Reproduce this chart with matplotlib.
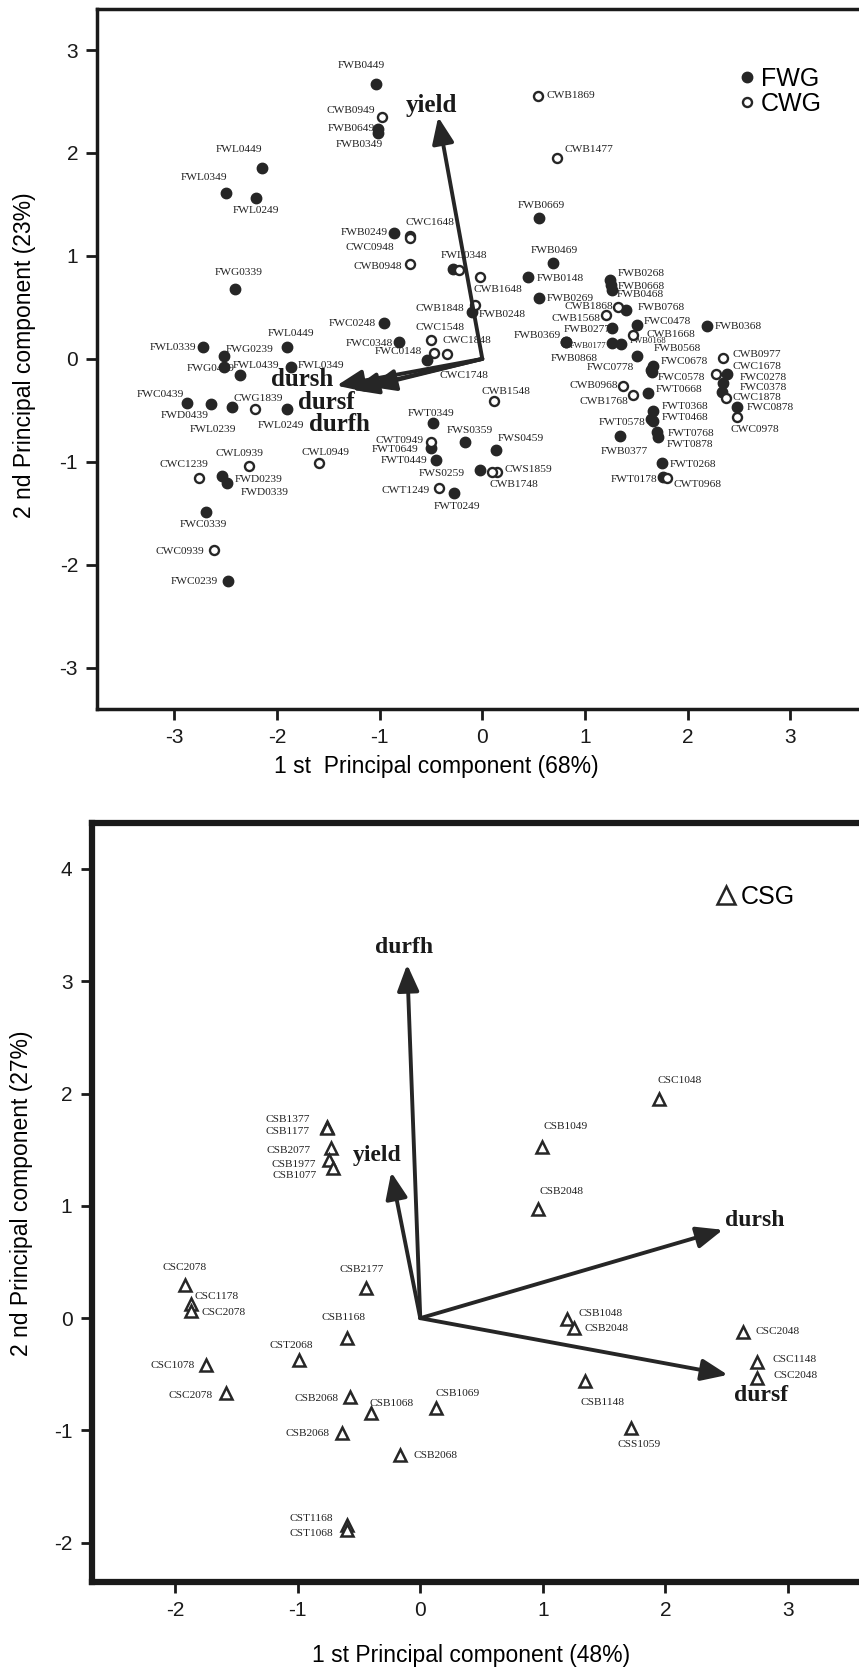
import matplotlib
matplotlib.use('Agg')
import matplotlib.pyplot as plt

plt.rcParams['font.family'] = 'Liberation Sans'
plt.rcParams['axes.unicode_minus'] = False

INK = '#262626'

# ---------- upper panel: FWG (filled) / CWG (open) ----------
fwg_names = ['FWB0449', 'FWB0649', 'FWB0349', 'FWL0449', 'FWL0349', 'FWL0249', 'FWG0339',
             'FWB0249', 'FWL0348', 'FWB0669', 'FWB0469', 'FWB0148', 'FWB0248', 'FWB0269',
             'FWC0248', 'FWC0348', 'FWC0148', 'FWL0339', 'FWG0239', 'FWL0439', 'FWG0439',
             'FWL0449', 'FWL0349', 'FWC0439', 'FWD0439', 'FWL0239', 'FWL0249', 'FWD0239',
             'FWD0339', 'FWC0339', 'FWC0239', 'FWT0349', 'FWT0649', 'FWT0449', 'FWS0359',
             'FWS0459', 'FWS0259', 'FWT0249', 'FWB0268', 'FWB0668', 'FWB0468', 'FWB0768',
             'FWC0478', 'FWB0277', 'FWB0369', 'FWB0868', 'FWB0177', 'FWB0168', 'FWB0568',
             'FWC0678', 'FWC0778', 'FWC0578', 'FWT0668', 'FWT0368', 'FWT0468', 'FWT0578',
             'FWB0377', 'FWT0768', 'FWT0878', 'FWT0268', 'FWT0178', 'FWB0368', 'FWC0278',
             'FWC0378', '', 'FWC0878']
fwg_x = [-1.035, -1.013, -1.013, -2.149, -2.496, -2.203, -2.411,
         -0.864, -0.288, 0.549, 0.693, 0.448, -0.096, 0.549,
         -0.955, -0.816, -0.544, -2.725, -2.517, -2.517, -2.357,
         -1.904, -1.867, -2.875, -2.64, -2.437, -1.904, -2.539,
         -2.491, -2.693, -2.48, -0.48, -0.501, -0.453, -0.165,
         0.133, -0.027, -0.272, 1.24, 1.25, 1.26, 1.40,
         1.504, 1.261, 0.811, 0.815, 1.264, 1.349, 1.504,
         1.66, 1.64, 1.65, 1.611, 1.666, 1.666, 1.64,
         1.342, 1.699, 1.709, 1.748, 1.764, 2.186, 2.387,
         2.348, 2.332, 2.484]
fwg_y = [2.675, 2.234, 2.194, 1.856, 1.607, 1.562, 0.681,
         1.224, 0.877, 1.366, 0.93, 0.792, 0.454, 0.587,
         0.347, 0.165, -0.013, 0.111, 0.031, -0.08, -0.156,
         0.111, -0.076, -0.432, -0.44, -0.463, -0.49, -1.139,
         -1.21, -1.486, -2.158, -0.623, -0.868, -0.984, -0.806,
         -0.881, -1.077, -1.3, 0.77, 0.72, 0.67, 0.479,
         0.327, 0.301, 0.165, 0.16, 0.156, 0.147, 0.03,
         -0.07, -0.11, -0.13, -0.329, -0.506, -0.603, -0.58,
         -0.749, -0.713, -0.755, -1.007, -1.143, 0.321, -0.151,
         -0.238, -0.326, -0.468]

cwg_names = ['CWB0949', 'CWC1648', 'CWC0948', 'CWB0948', '', 'CWB1648', 'CWB1869', 'CWB1477',
             'CWB1848', 'CWC1548', 'CWC1748', 'CWC1848', 'CWG1839', 'CWL0939', 'CWC1239',
             'CWC0939', 'CWL0949', 'CWT0949', 'CWB1548', 'CWS1859', 'CWB1748', 'CWT1249',
             'CWB1868', 'CWB1568', 'CWB1668', 'CWB0968', 'CWB1768', 'CWT0968', 'CWB0977',
             'CWC1678', 'CWC1878', 'CWC0978']
cwg_x = [-0.976, -0.704, -0.704, -0.704, -0.224, -0.027, 0.539, 0.731,
         -0.075, -0.501, -0.475, -0.341, -2.219, -2.277, -2.763,
         -2.619, -1.589, -0.501, 0.112, 0.139, 0.096, -0.421,
         1.319, 1.205, 1.472, 1.374, 1.472, 1.803, 2.348,
         2.277, 2.374, 2.484]
cwg_y = [2.35, 1.19, 1.17, 0.921, 0.868, 0.797, 2.555, 1.954,
         0.525, 0.187, 0.062, 0.045, -0.49, -1.037, -1.157,
         -1.856, -1.01, -0.806, -0.409, -1.095, -1.095, -1.255,
         0.505, 0.424, 0.236, -0.264, -0.351, -1.159, 0.011,
         -0.151, -0.377, -0.561]

top_vars = ['yield', 'dursh', 'dursf', 'durfh']
top_load_x = [-0.43, -1.42, -1.27, -1.10]
top_load_y = [2.35, -0.26, -0.30, -0.27]

# ---------- lower panel: CSG ----------
csg_names = ['CSC1048', 'CSB1049', 'CSB2048', 'CSB1377', 'CSB1177', 'CSB2077', 'CSB1977',
             'CSB1077', 'CSC2078', 'CSC1178', 'CSC2078', 'CSB2177', 'CSB1168', 'CST2068',
             'CSC1078', 'CSC2078', 'CSB2068', 'CSB1068', 'CSB1069', 'CSB2068', 'CSB2068',
             'CST1168', 'CST1068', 'CSB1048', 'CSB2048', 'CSB1148', 'CSS1059', 'CSC2048',
             'CSC1148', 'CSC2048']
csg_x = [1.945, 0.997, 0.962, -0.76, -0.76, -0.725, -0.747,
         -0.716, -1.923, -1.869, -1.874, -0.443, -0.595, -0.993,
         -1.749, -1.583, -0.572, -0.403, 0.13, -0.64, -0.165,
         -0.595, -0.595, 1.194, 1.252, 1.346, 1.722, 2.634,
         2.751, 2.751]
csg_y = [1.954, 1.526, 0.972, 1.70, 1.69, 1.515, 1.406,
         1.341, 0.299, 0.125, 0.06, 0.266, -0.174, -0.375,
         -0.418, -0.668, -0.706, -0.842, -0.798, -1.026, -1.216,
         -1.846, -1.889, -0.011, -0.092, -0.559, -0.977, -0.125,
         -0.391, -0.537]

bot_vars = ['durfh', 'yield', 'dursh', 'dursf']
bot_load_x = [-0.107, -0.237, 2.47, 2.51]
bot_load_y = [3.15, 1.30, 0.787, -0.505]

# ---------- label placement (layout only): offset in points + alignment ----------
fwg_lab = [(-10.3, 13.2, 'center'), (-2.4, 0.5, 'right'), (-13.7, -8.4, 'center'),
           (-16.3, 13.2, 'center'), (-16.3, 11.5, 'center'), (0, -9, 'center'),
           (2.9, 11.5, 'center'), (-4, 0, 'right'), (-9, 9.6, 'left'),
           (2.2, 9, 'center'), (0.7, 8.9, 'center'), (6, -0.5, 'left'),
           (4.8, -1.9, 'left'), (5.5, 0, 'left'), (-6, 0, 'right'),
           (-4, -1.2, 'right'), (-3.6, 6, 'right'), (-4.3, 0, 'right'),
           (1.2, 4.8, 'left'), (6, 1.2, 'left'), (-4.3, 4.3, 'right'),
           (3, 10, 'center'), (5, 1.2, 'left'), (-2.4, 6.7, 'right'),
           (-1.7, -8, 'right'), (2.9, -16.8, 'right'), (-4.3, -11.7, 'center'),
           (9.5, -2.4, 'left'), (10, -6.7, 'left'), (-2.2, -9, 'center'),
           (-6.8, 0, 'right'), (-1.7, 7.2, 'center'), (-9, -1.2, 'right'),
           (-6, 0, 'right'), (3.2, 8, 'center'), (1, 7.7, 'left'),
           (-10.8, -2.9, 'right'), (1.7, -9.6, 'center'), (5.5, 4.3, 'left'),
           (5, -1.0, 'left'), (4, -3.5, 'left'), (8.4, 1.2, 'left'),
           (5, 3, 'left'), (-1, -1, 'right'), (-3.6, 4.3, 'right'),
           (6, -11.5, 'center'), (-4, -2.4, 'right'), (6.5, 2, 'left'),
           (12.5, 5.3, 'left'), (5.5, 3, 'left'), (-12, 1.7, 'right'),
           (4, -4, 'left'), (5.8, 2.6, 'left'), (6, 3.2, 'left'),
           (6, 2.7, 'left'), (-3.5, -2.7, 'right'), (3, -11.2, 'center'),
           (7.6, -1.2, 'left'), (6.5, -6, 'left'), (6, -1.2, 'left'),
           (-4.3, -2, 'right'), (6, -0.7, 'left'), (9, -2, 'left'),
           (11.5, -3, 'left'), (0, 0, 'left'), (7, 0, 'left')]
cwg_lab = [(-4.8, 4.3, 'right'), (-3.6, 10.3, 'left'), (-29, -6.2, 'center'),
           (-6, -1.9, 'right'), (0, 0, 'left'), (-4.3, -9.1, 'left'),
           (6.2, 0, 'left'), (4.8, 6, 'left'), (-7.3, -2.7, 'right'),
           (6.4, 8.4, 'center'), (21.7, -16.8, 'center'), (-3.6, 9.6, 'left'),
           (2.9, 7.7, 'center'), (-6.8, 9, 'center'), (-10.4, 9.6, 'center'),
           (-6.5, -1.4, 'right'), (4.3, 7.2, 'center'), (-5.5, 1.2, 'right'),
           (8.4, 7.2, 'center'), (6, 1.2, 'left'), (15.3, -9.6, 'center'),
           (-6.5, -1.9, 'right'), (-3, 0, 'right'), (-4.3, -2, 'right'),
           (9.6, 0, 'left'), (-4, 0.7, 'right'), (-4, -4.3, 'right'),
           (4.3, -4.8, 'left'), (6.5, 2.6, 'left'), (12, 5.5, 'left'),
           (5, 0, 'left'), (12.5, -8.9, 'center')]
csg_lab = [(-0.5, 13.2, 'left'), (0.7, 14.4, 'left'), (1.2, 12.5, 'left'),
           (-12.5, 5.5, 'right'), (-12.5, -2.4, 'right'), (-15, -1.7, 'right'),
           (-9, -3, 'right'), (-11.5, -6, 'right'), (0.2, 12.5, 'center'),
           (2.2, 5.3, 'left'), (7.7, -1, 'left'), (-2.9, 13.7, 'center'),
           (-2.9, 14.4, 'center'), (-5, 10.8, 'center'), (-8.3, 0, 'right'),
           (-9.8, -1.8, 'right'), (-8.2, -0.5, 'right'), (-1.2, 6.7, 'left'),
           (-0.5, 10.3, 'left'), (-8.7, 0, 'right'), (9.5, -0.5, 'left'),
           (-10, 4.8, 'right'), (-10, -2.2, 'right'), (8.9, 4.3, 'left'),
           (8, 0, 'left'), (-3.6, -15.3, 'left'), (5.9, -11.8, 'center'),
           (9, 0.7, 'left'), (10.7, 1.8, 'left'), (11.8, 1.8, 'left')]
small = {'FWB0177', 'FWB0168'}


def put_labels(ax, names, xs, ys, labpos):
    for n, x, y, (dx, dy, ha) in zip(names, xs, ys, labpos):
        if not n:
            continue
        ax.annotate(n, (x, y), xytext=(dx, dy), textcoords='offset points', ha=ha, va='center',
                    fontsize=6.3 if n in small else 8.2, family='Liberation Serif',
                    color='#222222', zorder=2)


def draw_arrows(ax, lx, ly):
    for x, y in zip(lx, ly):
        ax.annotate('', xy=(x, y), xytext=(0, 0),
                    arrowprops=dict(arrowstyle='-|>,head_length=0.8,head_width=0.33',
                                    lw=2.8, color=INK, mutation_scale=20,
                                    shrinkA=0, shrinkB=0), zorder=4)


def style(ax, lw):
    for side in ['left', 'bottom', 'top', 'right']:
        ax.spines[side].set_linewidth(lw)
        ax.spines[side].set_color('#1a1a1a')
    ax.tick_params(direction='out', length=8, width=2, labelsize=15, pad=6,
                   color='#1a1a1a', labelcolor='#1a1a1a')


fig = plt.figure(figsize=(8.59, 16.72), dpi=100)

# upper panel
ax1 = fig.add_axes([0.1135, 0.576, 0.896, 0.4187])
ax1.set_xlim(-3.75, 3.75)
ax1.set_ylim(-3.4, 3.4)
ax1.plot(fwg_x, fwg_y, 'o', ms=7.5, mfc=INK, mec=INK, ls='none', label='FWG', zorder=3)
ax1.plot(cwg_x, cwg_y, 'o', ms=6.5, mfc='white', mec=INK, mew=1.7, ls='none', label='CWG', zorder=3)
put_labels(ax1, fwg_names, fwg_x, fwg_y, fwg_lab)
put_labels(ax1, cwg_names, cwg_x, cwg_y, cwg_lab)
draw_arrows(ax1, top_load_x, top_load_y)
top_txt = [(-0.5, 2.46), (-1.76, -0.2), (-1.52, -0.42), (-1.39, -0.64)]
for name, (tx, ty) in zip(top_vars, top_txt):
    ax1.text(tx, ty, name, ha='center', va='center', fontsize=18, fontweight='bold',
             family='Liberation Serif', color='#1a1a1a', zorder=5)
ax1.set_xticks(range(-3, 4))
ax1.set_yticks(range(-3, 4))
style(ax1, 2.5)
ax1.legend(loc='upper left', bbox_to_anchor=(0.82, 0.935), frameon=False, fontsize=18,
           handlelength=0.5, handletextpad=0.3, labelspacing=0.05, borderpad=0,
           markerscale=1.0)
ax1.text(0.44, -0.082, '1 st  Principal component (68%)', transform=ax1.transAxes,
         ha='center', va='center', fontsize=16.5)
ax1.text(-0.095, 0.506, '2 nd Principal component (23%)', transform=ax1.transAxes,
         ha='center', va='center', rotation=90, fontsize=16.5)

# lower panel
ax2 = fig.add_axes([0.107, 0.0538, 0.910, 0.454])
ax2.set_xlim(-2.68, 3.7)
ax2.set_ylim(-2.35, 4.41)
ax2.plot(csg_x, csg_y, '^', ms=8.5, mfc='white', mec=INK, mew=1.8, ls='none', label='CSG', zorder=3)
put_labels(ax2, csg_names, csg_x, csg_y, csg_lab)
draw_arrows(ax2, bot_load_x, bot_load_y)
bot_txt = [((-0.134, 3.30), 'center'), ((-0.35, 1.45), 'center'),
           ((2.49, 0.87), 'left'), ((2.78, -0.69), 'center')]
for name, ((tx, ty), ha) in zip(bot_vars, bot_txt):
    ax2.text(tx, ty, name, ha=ha, va='center', fontsize=17, fontweight='bold',
             family='Liberation Serif', color='#1a1a1a', zorder=5)
ax2.set_xticks(range(-2, 4))
ax2.set_yticks(range(-2, 5))
style(ax2, 4.5)
ax2.legend(loc='upper left', bbox_to_anchor=(0.785, 0.935), frameon=False, fontsize=18,
           handlelength=0.6, handletextpad=0.3, borderpad=0, markerscale=1.5)
ax2.text(0.485, -0.097, '1 st Principal component (48%)', transform=ax2.transAxes,
         ha='center', va='center', fontsize=16.5)
ax2.text(-0.09, 0.512, '2 nd Principal component (27%)', transform=ax2.transAxes,
         ha='center', va='center', rotation=90, fontsize=16.5)

fig.savefig('out.png', dpi=100)
